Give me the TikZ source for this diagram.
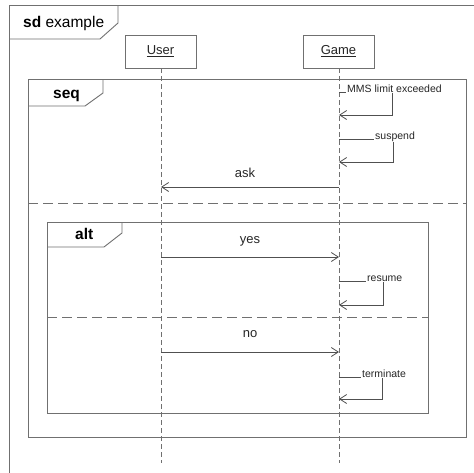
\documentclass[tikz,border=0pt]{standalone}
\usepackage{fontspec}
\setmainfont{Liberation Sans}
\usetikzlibrary{arrows.meta}
\definecolor{frm}{HTML}{707070}
\definecolor{ln}{HTML}{505050}
\begin{document}
\begin{tikzpicture}[x=1pt,y=-1pt,
  frame/.style={draw=frm, line width=0.9pt},
  life/.style={draw=frm, line width=0.8pt, dash pattern=on 5pt off 3pt},
  sepline/.style={draw=frm, line width=0.9pt, dash pattern=on 10pt off 5pt},
  obj/.style={draw=frm, line width=0.8pt, minimum width=71pt, minimum height=33pt, inner sep=0pt, font=\fontsize{13}{15}\selectfont, text=black!85},
  msg/.style={draw=ln, line width=0.8pt, -{Straight Barb[length=7pt,width=9pt]}},
  big/.style={font=\fontsize{13}{15}\selectfont, text=black!85, inner sep=0pt, anchor=base},
  small/.style={font=\fontsize{10.5}{12}\selectfont, fill=white, inner sep=1pt, anchor=base west, text=black!85},
  tabtext/.style={font=\fontsize{15.5}{17}\selectfont, text=black, inner sep=0pt, anchor=base west}
]
\useasboundingbox (0,0) rectangle (474,472);
\clip (0,0) rectangle (474,472);
\fill[white] (0,0) rectangle (474,472);

% outer sd frame
\draw[frame] (9.5,480) -- (9.5,5.5) -- (480,5.5);
\draw[frame] (9.5,39) -- (100,39) -- (118,23) -- (118,5.5);
\node[tabtext] (sdlabel) at (23,27) {\textbf{sd} example};

% seq frame
\draw[frame] (28,79) rectangle (466,437);
\draw[frame] (28,106) -- (85,106) -- (103,93) -- (103,79);
\node[tabtext] (seqlabel) at (53,98) {\textbf{seq}};
\draw[sepline] (28,203) -- (466,203);

% alt frame
\draw[frame] (47,222) rectangle (428,413);
\draw[frame] (47,247) -- (104,247) -- (122,233) -- (122,222);
\node[tabtext] (altlabel) at (75,239) {\textbf{alt}};
\draw[sepline] (47,317) -- (428,317);

% lifelines
\node[obj] (user) at (160.5,51.5) {\underline{User}};
\node[obj] (game) at (338.5,51.5) {\underline{Game}};
\coordinate (uend) at (161,463);
\coordinate (gend) at (339,463);
\draw[life] (user.south -| uend) -- (uend);
\draw[life] (game.south -| gend) -- (gend);

% self message: MMS limit exceeded
\coordinate (m1a) at (339,92);
\coordinate (m1b) at (339,115);
\draw[msg] (m1a) -- (392,92) -- (392,115) -- (m1b);
\node[small] (m1l) at (346,92) {MMS limit exceeded};

% self message: suspend
\coordinate (m2a) at (339,139);
\coordinate (m2b) at (339,162);
\draw[msg] (m2a) -- (393,139) -- (393,162) -- (m2b);
\node[small] (m2l) at (374,139) {suspend};

% ask
\coordinate (askg) at (339,187);
\coordinate (asku) at (161,187);
\draw[msg] (askg) -- (asku);
\node[big] (askl) at (245,177) {ask};

% yes
\coordinate (yesu) at (161,257);
\coordinate (yesg) at (339,257);
\draw[msg] (yesu) -- (yesg);
\node[big] (yesl) at (250,243) {yes};

% resume
\coordinate (m3a) at (339,281);
\coordinate (m3b) at (339,305);
\draw[msg] (m3a) -- (383,281) -- (383,305) -- (m3b);
\node[small] (m3l) at (366,281) {resume};

% no
\coordinate (nou) at (161,352);
\coordinate (nog) at (339,352);
\draw[msg] (nou) -- (nog);
\node[big] (nol) at (250,337) {no};

% terminate
\coordinate (m4a) at (339,377);
\coordinate (m4b) at (339,399);
\draw[msg] (m4a) -- (382,377) -- (382,399) -- (m4b);
\node[small] (m4l) at (361,377) {terminate};
\end{tikzpicture}
\end{document}
